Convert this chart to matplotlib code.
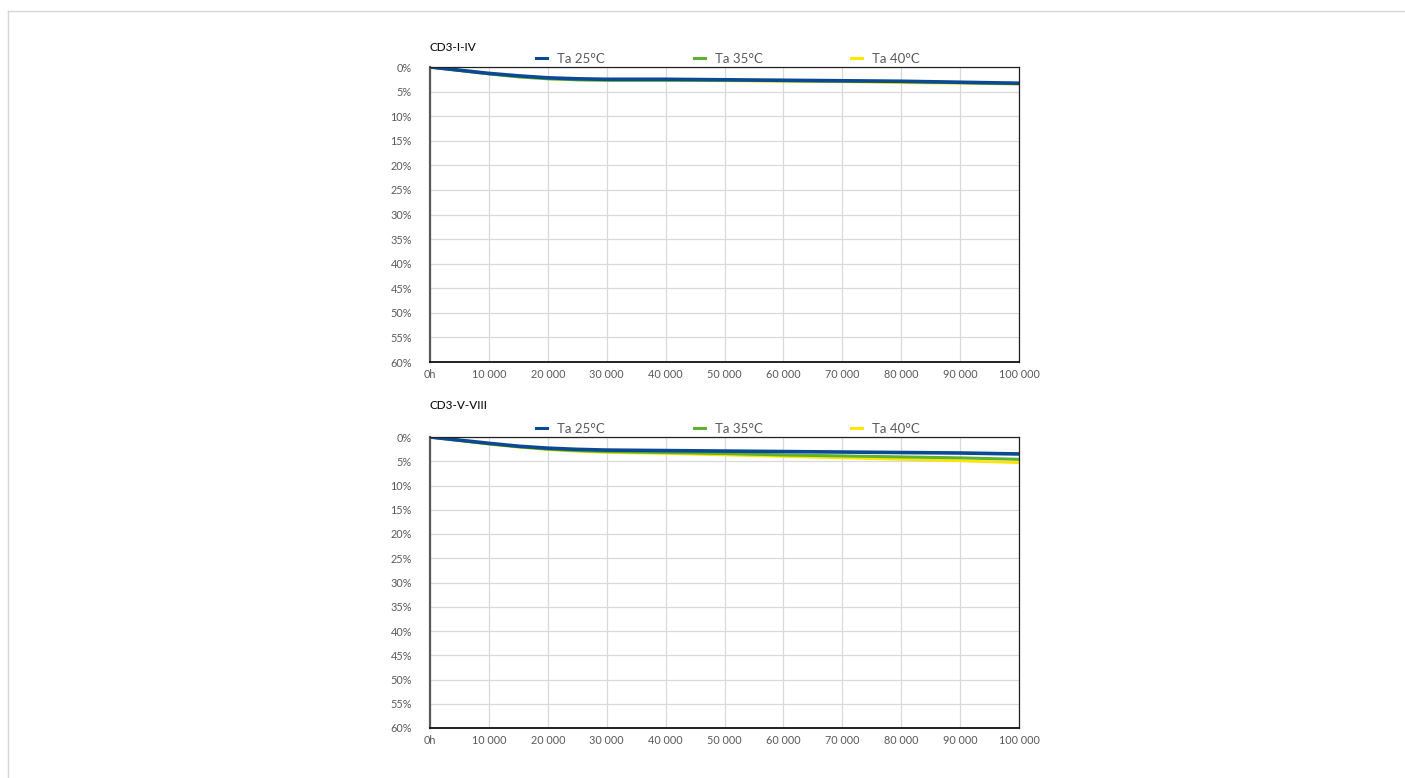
import numpy as np
import matplotlib.pyplot as plt
from matplotlib.lines import Line2D

plt.rcParams['font.family'] = ['Lato', 'DejaVu Sans']

# hours of operation (readings every 5000 h)
hours = list(range(0, 100001, 5000))
tick_hours = list(range(0, 100001, 10000))
xtick_labels = ['0h', '10 000', '20 000', '30 000', '40 000', '50 000',
                '60 000', '70 000', '80 000', '90 000', '100 000']
series_names = ['Ta 25°C', 'Ta 35°C', 'Ta 40°C']

# luminous flux depreciation (%), CD3-I-IV
top_25 = [0, 0.65, 1.3, 1.8, 2.2, 2.4, 2.5, 2.5, 2.5, 2.55, 2.6,
          2.65, 2.7, 2.75, 2.8, 2.85, 2.9, 3.0, 3.1, 3.2, 3.3]
top_35 = [0, 0.7, 1.4, 2.0, 2.4, 2.6, 2.7, 2.7, 2.7, 2.7, 2.7,
          2.75, 2.8, 2.85, 2.9, 2.95, 3.0, 3.1, 3.2, 3.3, 3.4]
top_40 = [0, 0.7, 1.4, 2.0, 2.4, 2.6, 2.7, 2.7, 2.7, 2.75, 2.8,
          2.85, 2.9, 2.95, 3.0, 3.1, 3.2, 3.25, 3.3, 3.4, 3.5]

# CD3-V-VIII
bot_25 = [0, 0.65, 1.3, 1.9, 2.3, 2.55, 2.7, 2.75, 2.8, 2.85, 2.9,
          2.95, 3.0, 3.05, 3.1, 3.15, 3.2, 3.25, 3.3, 3.4, 3.5]
bot_35 = [0, 0.7, 1.4, 2.0, 2.5, 2.8, 3.0, 3.1, 3.2, 3.3, 3.4,
          3.55, 3.7, 3.8, 3.9, 4.0, 4.1, 4.2, 4.3, 4.45, 4.6]
bot_40 = [0, 0.75, 1.5, 2.1, 2.6, 2.95, 3.2, 3.3, 3.4, 3.55, 3.7,
          3.85, 4.0, 4.15, 4.3, 4.45, 4.6, 4.75, 4.9, 5.1, 5.3]

colors = ['#0b4a93', '#5db234', '#ffe500']
widths = [2.6, 2.2, 2.0]

fig = plt.figure(figsize=(14.05, 7.78), dpi=100)

# light page frame
fig.add_artist(Line2D([8/1405, 1], [1 - 11/778, 1 - 11/778], color='#d6d6d6', lw=1))
fig.add_artist(Line2D([8/1405, 8/1405], [0, 1 - 11/778], color='#d6d6d6', lw=1))


def draw(ax, title, data, title_y):
    # draw hotter first so the 25°C line sits on top
    handles = [None] * 3
    for i in [2, 1, 0]:
        ax.plot(hours, data[i], color=colors[i], lw=widths[i],
                solid_capstyle='round', solid_joinstyle='round')
        handles[i] = Line2D([], [], color=colors[i], lw=2.2)
    ax.set_xlim(0, 100000)
    ax.set_ylim(60, 0)
    ax.set_xticks(tick_hours)
    ax.set_xticklabels(xtick_labels)
    ax.set_yticks(np.arange(0, 61, 5))
    ax.set_yticklabels([f'{v}%' for v in range(0, 61, 5)])
    ax.tick_params(length=0, labelsize=7.8, labelcolor='#595959')
    ax.tick_params(axis='y', pad=13)
    ax.tick_params(axis='x', pad=5)
    ax.grid(True, color='#d9d9d9', lw=0.9)
    ax.set_axisbelow(True)
    ax.spines['left'].set_color('#595959')
    ax.spines['left'].set_linewidth(1.6)
    ax.spines['bottom'].set_color('#111111')
    ax.spines['bottom'].set_linewidth(1.3)
    for s in ['top', 'right']:
        ax.spines[s].set_color('#222222')
        ax.spines[s].set_linewidth(0.9)
    ax.legend(handles, series_names, loc='lower center', bbox_to_anchor=(0.506, 1.0),
              ncol=3, frameon=False, fontsize=9.5, labelcolor='#595959',
              handlelength=0.85, handletextpad=0.75, columnspacing=6.7,
              borderpad=0, borderaxespad=0.15)
    ax.text(0, title_y, title, transform=ax.transAxes, fontsize=8.5, color='#111111',
            ha='left', va='bottom', fontweight='medium')


ax1 = fig.add_axes([430/1405, 1 - 362/778, 589/1405, 295/778])
draw(ax1, 'CD3-I-IV', [top_25, top_35, top_40], 1.048)

ax2 = fig.add_axes([430/1405, 1 - 728/778, 589/1405, 291/778])
draw(ax2, 'CD3-V-VIII', [bot_25, bot_35, bot_40], 1.09)

fig.savefig('out.png', dpi=100)
